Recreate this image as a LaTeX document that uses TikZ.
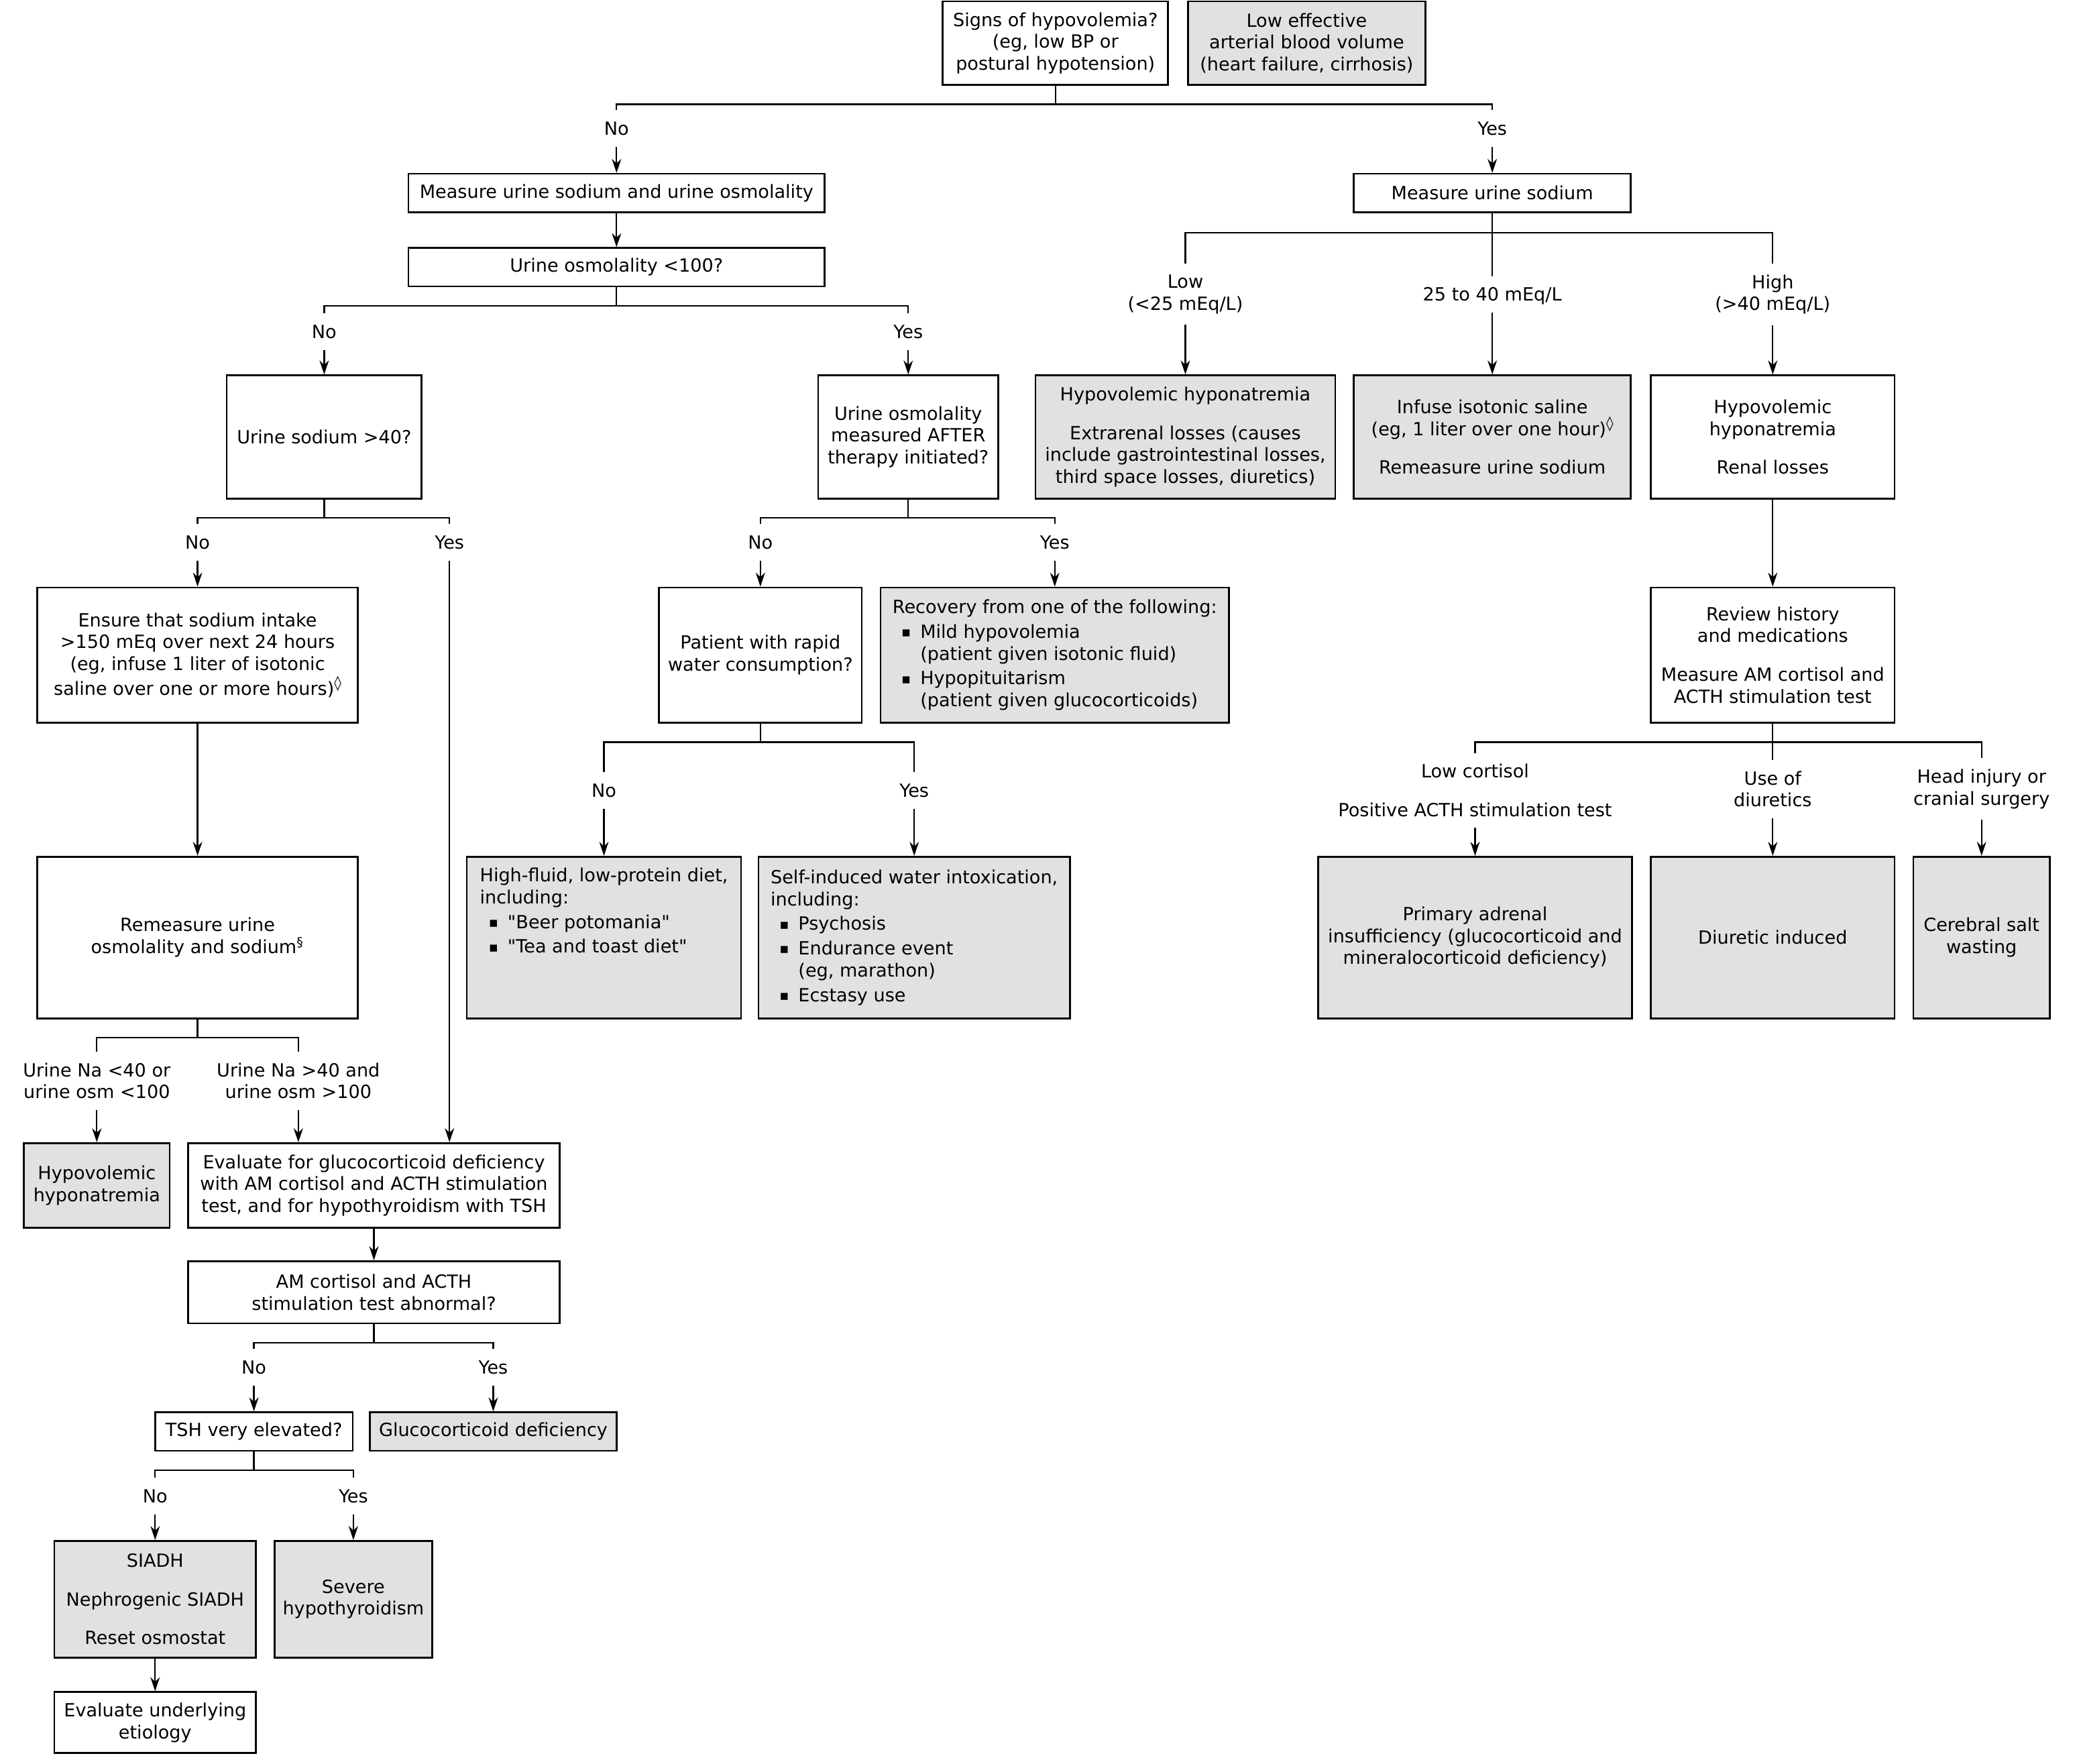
\documentclass[tikz,border=0pt]{standalone}
\usepackage{fontspec}
\setmainfont{DejaVu Sans}
\usepackage{xcolor}
\usetikzlibrary{arrows.meta}
\definecolor{boxgray}{RGB}{225,225,225}
\newcommand{\fs}{\fontsize{7.8}{9.4}\selectfont}
\newcommand{\itm}{\hspace*{3.8pt}\makebox[8.1pt][l]{\raisebox{0.5pt}{\fontsize{6}{6}\selectfont ▪}}}
\newcommand{\cnt}{\hspace*{11.9pt}}
\newcommand{\dia}{\raisebox{3pt}{\fontsize{6.2}{6.2}\selectfont ◊}}
\newcommand{\qt}{\textquotedbl}

\begin{document}
\begin{tikzpicture}[x=0.02cm, y=-0.02cm,
  box/.style={draw, line width=0.75pt, inner sep=0pt, align=center, font=\fs},
  gbox/.style={box, fill=boxgray},
  lbl/.style={inner xsep=1pt, inner ysep=0.17cm, text height=5.7pt, text depth=0pt, font=\fs},
  lbl2/.style={inner xsep=1pt, inner ysep=0.16cm, align=center, font=\fs},
  conn/.style={line width=0.65pt},
  arr/.style={conn, -{Stealth[length=6pt, width=4pt]}}
]
\path[use as bounding box, fill=white] (0,0) rectangle (1568,1330);

% top
\node[box, minimum width=3.40cm, minimum height=1.26cm] (signs) at (796,32.5) {Signs of hypovolemia?\\(eg, low BP or\\postural hypotension)};
\node[gbox, minimum width=3.58cm, minimum height=1.26cm] (lowvol) at (985.5,32.5) {Low effective\\arterial blood volume\\(heart failure, cirrhosis)};
\node[lbl] (no1) at (465,97) {No};
\node[lbl] (yes1) at (1125.5,97) {Yes};
\node[box, minimum width=6.28cm, minimum height=0.58cm] (meas1) at (465,145.5) {Measure urine sodium and urine osmolality};
\node[box, minimum width=4.18cm, minimum height=0.58cm] (meas2) at (1125.5,145.5) {Measure urine sodium};

% left branch
\node[box, minimum width=6.28cm, minimum height=0.58cm] (uosm) at (465,201.5) {Urine osmolality <100?};
\node[lbl] (no2) at (244.5,250) {No};
\node[lbl] (yes2) at (685,250) {Yes};
\node[box, minimum width=2.94cm, minimum height=1.86cm] (una) at (244.5,329.5) {Urine sodium >40?};
\node[box, minimum width=2.72cm, minimum height=1.86cm] (after) at (685,329.5) {Urine osmolality\\measured AFTER\\therapy initiated?};
\node[lbl] (no3) at (149,409) {No};
\node[lbl] (yes3) at (339,409) {Yes};
\node[lbl] (no4) at (573.5,409) {No};
\node[lbl] (yes4) at (795.5,409) {Yes};
\node[box, minimum width=4.84cm, minimum height=2.04cm] (ensure) at (149,494) {Ensure that sodium intake\\>150 mEq over next 24 hours\\(eg, infuse 1 liter of isotonic\\saline over one or more hours)\dia};
\node[box, minimum width=3.06cm, minimum height=2.04cm] (rapid) at (573.5,494) {Patient with rapid\\water consumption?};
\node[gbox, minimum width=5.26cm, minimum height=2.04cm, align=left] (recov) at (795.5,494) {Recovery from one of the following:\\[1.2pt]\itm Mild hypovolemia\\\cnt(patient given isotonic fluid)\\[1.2pt]\itm Hypopituitarism\\\cnt(patient given glucocorticoids)};
\node[lbl] (no5) at (455.5,596) {No};
\node[lbl] (yes5) at (689.5,596) {Yes};
\node[box, minimum width=4.84cm, minimum height=2.44cm] (remeas) at (149,707) {Remeasure urine\\osmolality and sodium\textsuperscript{§}};
\node[gbox, minimum width=4.14cm, minimum height=2.44cm, align=left] (hifluid) at (455.5,707) {High-fluid, low-protein diet,\\including:\\[1.2pt]\itm \qt Beer potomania\qt\\[1.2pt]\itm \qt Tea and toast diet\qt\\[11pt]\strut};
\node[gbox, minimum width=4.70cm, minimum height=2.44cm, align=left] (selfind) at (689.5,707) {Self-induced water intoxication,\\including:\\[1.2pt]\itm Psychosis\\[1.2pt]\itm Endurance event\\\cnt(eg, marathon)\\[1.2pt]\itm Ecstasy use};
\node[lbl2] (na1) at (73,815) {Urine Na <40 or\\urine osm <100};
\node[lbl2] (na2) at (225,815) {Urine Na >40 and\\urine osm >100};
\node[gbox, minimum width=2.20cm, minimum height=1.28cm] (hypo1) at (73,894) {Hypovolemic\\hyponatremia};
\node[box, minimum width=5.60cm, minimum height=1.28cm] (evalgc) at (282,894) {Evaluate for glucocorticoid deficiency\\with AM cortisol and ACTH stimulation\\test, and for hypothyroidism with TSH};
\node[box, minimum width=5.60cm, minimum height=0.94cm] (amcort) at (282,974.5) {AM cortisol and ACTH\\stimulation test abnormal?};
\node[lbl] (no6) at (191.5,1031) {No};
\node[lbl] (yes6) at (372,1031) {Yes};
\node[box, minimum width=2.98cm, minimum height=0.58cm] (tsh) at (191.5,1079.5) {TSH very elevated?};
\node[gbox, minimum width=3.72cm, minimum height=0.58cm] (gluco) at (372,1079.5) {Glucocorticoid deficiency};
\node[lbl] (no7) at (117,1128) {No};
\node[lbl] (yes7) at (266.5,1128) {Yes};
\node[gbox, minimum width=3.04cm, minimum height=1.76cm] (siadh) at (117,1206) {SIADH\\[7.2pt]Nephrogenic SIADH\\[7.2pt]Reset osmostat};
\node[gbox, minimum width=2.38cm, minimum height=1.76cm] (severe) at (266.5,1206) {Severe\\hypothyroidism};
\node[box, minimum width=3.04cm, minimum height=0.92cm] (etiol) at (117,1299) {Evaluate underlying\\etiology};

% right branch
\node[lbl2] (low) at (894,222) {Low\\(<25 mEq/L)};
\node[lbl] (mid) at (1125.5,222) {25 to 40 mEq/L};
\node[lbl2] (high) at (1337,222) {High\\(>40 mEq/L)};
\node[gbox, minimum width=4.52cm, minimum height=1.86cm] (hypo2) at (894,329.5) {Hypovolemic hyponatremia\\[7.2pt]Extrarenal losses (causes\\include gastrointestinal losses,\\third space losses, diuretics)};
\node[gbox, minimum width=4.18cm, minimum height=1.86cm] (infuse) at (1125.5,329.5) {Infuse isotonic saline\\(eg, 1 liter over one hour)\dia\\[7.2pt]Remeasure urine sodium};
\node[box, minimum width=3.68cm, minimum height=1.86cm] (hypo3) at (1337,329.5) {Hypovolemic\\hyponatremia\\[7.2pt]Renal losses};
\node[box, minimum width=3.68cm, minimum height=2.04cm] (review) at (1337,494) {Review history\\and medications\\[7.2pt]Measure AM cortisol and\\ACTH stimulation test};
\node[lbl2] (lowc) at (1112.5,596) {Low cortisol\\[7.2pt]Positive ACTH stimulation test};
\node[lbl2] (use) at (1337,595) {Use of\\diuretics};
\node[lbl2] (head) at (1494.5,595) {Head injury or\\cranial surgery};
\node[gbox, minimum width=4.74cm, minimum height=2.44cm] (primary) at (1112.5,707) {Primary adrenal\\insufficiency (glucocorticoid and\\mineralocorticoid deficiency)};
\node[gbox, minimum width=3.68cm, minimum height=2.44cm] (diur) at (1337,707) {Diuretic induced};
\node[gbox, minimum width=2.06cm, minimum height=2.44cm] (csw) at (1494.5,707) {Cerebral salt\\wasting};

% connectors
\draw[conn] (signs.south) -- ++(0,14) -| (no1.north);
\draw[conn] (signs.south) -- ++(0,14) -| (yes1.north);
\draw[arr] (no1) -- (meas1);
\draw[arr] (yes1) -- (meas2);
\draw[arr] (meas1) -- (uosm);
\draw[conn] (uosm.south) -- ++(0,14) -| (no2.north);
\draw[conn] (uosm.south) -- ++(0,14) -| (yes2.north);
\draw[arr] (no2) -- (una);
\draw[arr] (yes2) -- (after);
\draw[conn] (una.south) -- ++(0,14) -| (no3.north);
\draw[conn] (una.south) -- ++(0,14) -| (yes3.north);
\draw[arr] (no3) -- (ensure);
\draw[arr] (yes3) -- (yes3 |- evalgc.north);
\draw[conn] (after.south) -- ++(0,14) -| (no4.north);
\draw[conn] (after.south) -- ++(0,14) -| (yes4.north);
\draw[arr] (no4) -- (rapid);
\draw[arr] (yes4) -- (recov);
\draw[arr] (ensure) -- (remeas);
\draw[conn] (rapid.south) -- ++(0,14) -| (no5.north);
\draw[conn] (rapid.south) -- ++(0,14) -| (yes5.north);
\draw[arr] (no5) -- (hifluid);
\draw[arr] (yes5) -- (selfind);
\draw[conn] (remeas.south) -- ++(0,14) -| (na1.north);
\draw[conn] (remeas.south) -- ++(0,14) -| (na2.north);
\draw[arr] (na1) -- (hypo1);
\draw[arr] (na2) -- (na2 |- evalgc.north);
\draw[arr] (evalgc) -- (amcort);
\draw[conn] (amcort.south) -- ++(0,14) -| (no6.north);
\draw[conn] (amcort.south) -- ++(0,14) -| (yes6.north);
\draw[arr] (no6) -- (tsh);
\draw[arr] (yes6) -- (gluco);
\draw[conn] (tsh.south) -- ++(0,14) -| (no7.north);
\draw[conn] (tsh.south) -- ++(0,14) -| (yes7.north);
\draw[arr] (no7) -- (siadh);
\draw[arr] (yes7) -- (severe);
\draw[arr] (siadh) -- (etiol);

\draw[conn] (meas2.south) -- ++(0,15) coordinate (b1) -| (low.north);
\draw[conn] (b1) -| (high.north);
\draw[conn] (b1) -- (mid.north);
\draw[arr] (low) -- (hypo2);
\draw[arr] (mid) -- (infuse);
\draw[arr] (high) -- (hypo3);
\draw[arr] (hypo3) -- (review);
\draw[conn] (review.south) -- ++(0,14) coordinate (b2) -| (lowc.north);
\draw[conn] (b2) -| (head.north);
\draw[conn] (b2) -- (use.north);
\draw[arr] (lowc) -- (primary);
\draw[arr] (use) -- (diur);
\draw[arr] (head) -- (csw);
\end{tikzpicture}
\end{document}
